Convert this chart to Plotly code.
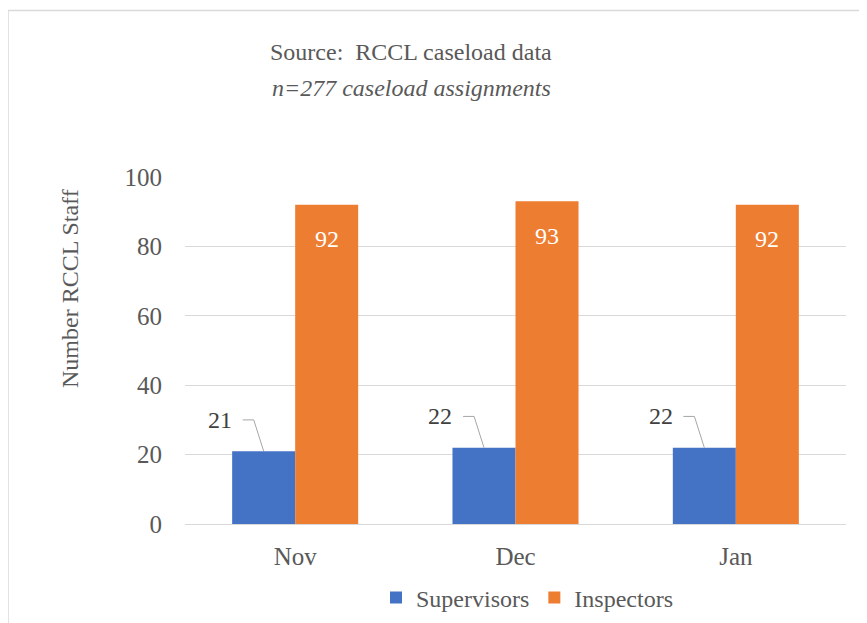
import plotly.graph_objects as go

months = ["Nov", "Dec", "Jan"]
supervisors = [21, 22, 22]
inspectors = [92, 93, 92]
title_line1 = "Source:  RCCL caseload data"
title_line2 = "n=277 caseload assignments"
y_title = "Number RCCL Staff"

BLUE = "#4472C4"
ORANGE = "#ED7D31"
TXT = "#595959"
GRID = "#D9D9D9"
FONT = "Liberation Serif"

OFF = 8  # page body margin offset
W, H = 867 - OFF, 623 - OFF
L, R, T, B = 185 - OFF, 21, 177 - OFF, 99
pw = W - L - R
ph = H - T - B

def px_x(p):
    return (p - OFF - L) / pw

def px_y(p):
    return (H - B - (p - OFF)) / ph

xs = list(range(len(months)))
bw = 0.286

fig = go.Figure()
fig.add_trace(go.Bar(x=xs, y=supervisors, name="Supervisors", marker_color=BLUE,
                     width=bw, offset=-bw, marker_line_width=0))
fig.add_trace(go.Bar(x=xs, y=inspectors, name="Inspectors", marker_color=ORANGE,
                     width=bw, offset=0, marker_line_width=0))

annotations = []
for i, v in enumerate(supervisors):
    c = xs[i] - bw / 2
    ly = v + 9
    fig.add_trace(go.Scatter(x=[c - 0.095, c - 0.045, c], y=[ly, ly, v], mode="lines",
                             line=dict(color="#A6A6A6", width=1), showlegend=False,
                             hoverinfo="skip"))
    annotations.append(dict(x=c - 0.135, y=ly, xref="x", yref="y", text=str(v),
                            showarrow=False, xanchor="right", yanchor="middle",
                            font=dict(family=FONT, size=24, color="#404040")))
for i, v in enumerate(inspectors):
    c = xs[i] + bw / 2
    annotations.append(dict(x=c, y=v - 10, xref="x", yref="y", text=str(v),
                            showarrow=False, xanchor="center", yanchor="middle",
                            font=dict(family=FONT, size=24, color="white")))

annotations.append(dict(x=px_x(411), y=px_y(52), xref="paper", yref="paper",
                        text=title_line1, showarrow=False, xanchor="center", yanchor="middle",
                        font=dict(family=FONT, size=24, color=TXT)))
annotations.append(dict(x=px_x(411), y=px_y(88), xref="paper", yref="paper",
                        text="<i>" + title_line2 + "</i>", showarrow=False, xanchor="center",
                        yanchor="middle", font=dict(family=FONT, size=24, color=TXT)))
annotations.append(dict(x=px_x(70), y=px_y(289), xref="paper", yref="paper",
                        text=y_title, textangle=-90, showarrow=False, xanchor="center",
                        yanchor="middle", font=dict(family=FONT, size=24, color=TXT)))

fig.update_layout(
    width=W, height=H,
    margin=dict(l=L, r=R, t=T, b=B, pad=0, autoexpand=False),
    paper_bgcolor="white", plot_bgcolor="white",
    barmode="overlay",
    showlegend=True,
    legend=dict(orientation="h", xref="container", yref="container",
                x=(527 - OFF) / W, y=1 - (598 - OFF) / H, xanchor="center", yanchor="middle",
                font=dict(family=FONT, size=24, color=TXT), itemwidth=30,
                bgcolor="rgba(0,0,0,0)"),
    annotations=annotations,
    shapes=[dict(type="rect", xref="paper", yref="paper",
                 x0=px_x(8), x1=px_x(880), y0=px_y(640), y1=px_y(10.5),
                 line=dict(color=GRID, width=1.5), layer="below")],
    xaxis=dict(range=[-0.5, 2.5], tickvals=xs, ticktext=months, showgrid=False,
               zeroline=False, showline=True, linecolor=GRID, linewidth=1, ticks="",
               ticklabelstandoff=10, tickfont=dict(family=FONT, size=25, color=TXT),
               fixedrange=True, automargin=False),
    yaxis=dict(range=[0, 100], tickvals=[0, 20, 40, 60, 80, 100], showgrid=True,
               gridcolor=GRID, gridwidth=1, zeroline=False, showline=False, ticks="",
               ticklabelstandoff=22, tickfont=dict(family=FONT, size=25, color=TXT),
               fixedrange=True, automargin=False),
)

fig.write_html("out.html")
